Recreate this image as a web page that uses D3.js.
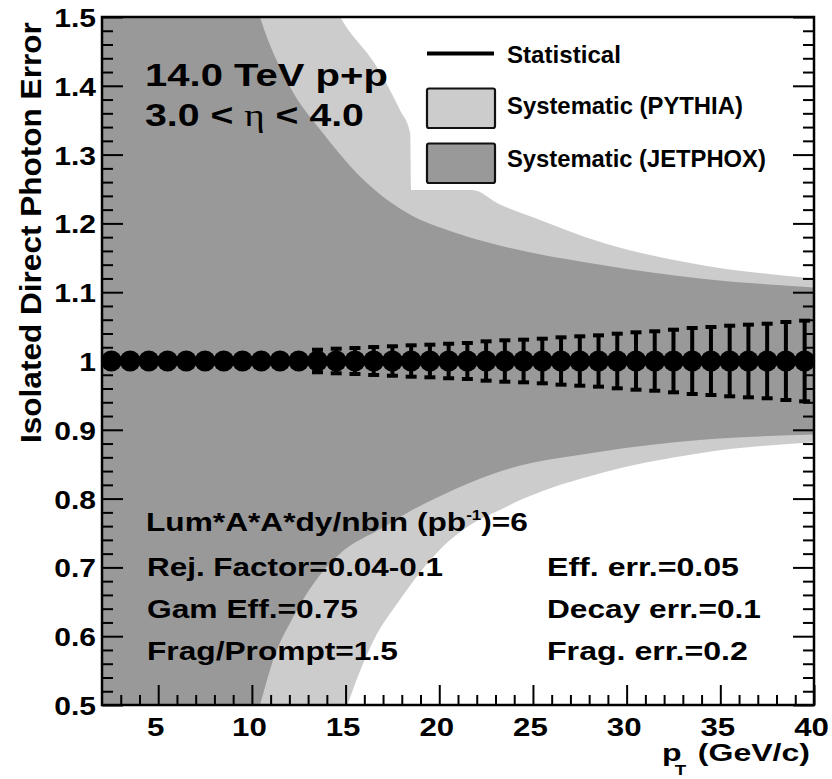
<!DOCTYPE html>
<html><head><meta charset="utf-8">
<script src="https://cdn.jsdelivr.net/npm/d3@7"></script>
<style>
html,body{margin:0;padding:0;background:#fff;}
svg{display:block;}
text{font-family:"Liberation Sans",Arial,Helvetica,sans-serif;font-weight:bold;fill:#000;}
</style></head><body>
<svg id="chart" width="832" height="779"></svg>
<script>
// ---------------- data ----------------
const ptBins = [2.5,3.5,4.5,5.5,6.5,7.5,8.5,9.5,10.5,11.5,12.5,13.5,14.5,15.5,16.5,17.5,18.5,19.5,20.5,21.5,
  22.5,23.5,24.5,25.5,26.5,27.5,28.5,29.5,30.5,31.5,32.5,33.5,34.5,35.5,36.5,37.5,38.5,39.5];
const ratioValues = [1,1,1,1,1,1,1,1,1,1,1,1,1,1,1,1,1,1,1,1,1,1,1,1,1,1,1,1,1,1,1,1,1,1,1,1,1,1];
const statErrors = [0.0057,0.0062,0.0068,0.0075,0.0083,0.0092,0.0102,0.0113,0.0125,0.0137,0.0150,
  0.0164,0.0179,0.0189,0.0203,0.0214,0.0228,0.0237,0.0251,0.0262,0.0286,0.0301,0.0310,0.0324,0.0344,
  0.0359,0.0373,0.0397,0.0417,0.0432,0.0455,0.0480,0.0494,0.0513,0.0528,0.0542,0.0567,0.0586];

// systematic bands (upper and lower edges)
const pythiaUpperPt  = [2, 13.5, 14.72, 16.68, 17.9, 18.45, 18.5, 20.0, 21.75, 23.2, 25.0, 28.6, 33.9, 40];
const pythiaUpperVal = [3.0, 1.57, 1.50, 1.427, 1.365, 1.331, 1.2485, 1.2485, 1.2485, 1.228, 1.209, 1.173, 1.14, 1.12];
const pythiaLowerPt  = [2, 14.5, 15.1, 16.5, 17.9, 20.0, 21.8, 23.2, 24.5, 28.6, 33.9, 40];
const pythiaLowerVal = [-1.0, 0.45, 0.50, 0.594, 0.653, 0.725, 0.764, 0.783, 0.80, 0.837, 0.866, 0.882];
const jetphoxUpperPt  = [2, 9.8, 10.43, 12.0, 13.8, 15.6, 18.3, 20.9, 23.2, 28.6, 33.9, 40];
const jetphoxUpperVal = [3.0, 1.56, 1.50, 1.40, 1.331, 1.273, 1.215, 1.186, 1.168, 1.14, 1.12, 1.107];
const jetphoxLowerPt  = [2, 9.8, 10.43, 11.13, 12.19, 13.63, 14.7, 17.0, 18.4, 20.0, 23.2, 28.6, 33.9, 40];
const jetphoxLowerVal = [-1.0, 0.44, 0.50, 0.565, 0.627, 0.689, 0.72, 0.758, 0.781, 0.803, 0.839, 0.868, 0.885, 0.893];

const yMajorTicks = [0.5,0.6,0.7,0.8,0.9,1.0,1.1,1.2,1.3,1.4,1.5];
const yTickLabels = ["0.5","0.6","0.7","0.8","0.9","1","1.1","1.2","1.3","1.4","1.5"];
const xMajorTicks = [5,10,15,20,25,30,35,40];
const xTickLabels = ["5","10","15","20","25","30","35","40"];

const legendLabels = ["Statistical","Systematic (PYTHIA)","Systematic (JETPHOX)"];
const infoLeft  = ["Rej. Factor=0.04-0.1","Gam Eff.=0.75","Frag/Prompt=1.5"];
const infoRight = ["Eff. err.=0.05","Decay err.=0.1","Frag. err.=0.2"];

// ---------------- drawing ----------------
const LIGHT = "#cccccc", DARK = "#999999";
const svg = d3.select("#chart");
const X0 = 102, X1 = 814, Y0 = 17, Y1 = 705;
const x = d3.scaleLinear().domain([2, 40]).range([X0, X1]);
const y = d3.scaleLinear().domain([0.5, 1.5]).range([Y1, Y0]);

svg.append("defs").append("clipPath").attr("id", "plotclip")
  .append("rect").attr("x", X0).attr("y", Y0).attr("width", X1 - X0).attr("height", Y1 - Y0);
const plot = svg.append("g").attr("clip-path", "url(#plotclip)");

function band(ptArr, valArr, color) {
  const pts = ptArr.map((p, i) => [p, valArr[i]]);
  const area = d3.area().x(d => x(d[0])).y0(y(1)).y1(d => y(d[1])).curve(d3.curveMonotoneX);
  plot.append("path").datum(pts).attr("d", area).attr("fill", color);
}
band(pythiaUpperPt, pythiaUpperVal, LIGHT);
band(pythiaLowerPt, pythiaLowerVal, LIGHT);
band(jetphoxUpperPt, jetphoxUpperVal, DARK);
band(jetphoxLowerPt, jetphoxLowerVal, DARK);

// statistical points
const R = 10.5;
const pts = ptBins.map((p, i) => ({p, v: ratioValues[i], e: statErrors[i]}));
const eb = svg.append("g");
pts.filter(d => (y(d.v) - y(d.v + d.e)) > R).forEach(d => {
  const cx = x(d.p);
  eb.append("line").attr("x1", cx).attr("x2", cx).attr("y1", y(d.v + d.e)).attr("y2", y(d.v - d.e))
    .attr("stroke", "#000").attr("stroke-width", 4);
  [d.v + d.e, d.v - d.e].forEach(val => {
    eb.append("line").attr("x1", cx - 5.5).attr("x2", cx + 5.5).attr("y1", y(val)).attr("y2", y(val))
      .attr("stroke", "#000").attr("stroke-width", 4);
  });
});
svg.append("g").selectAll("circle").data(pts).join("circle")
  .attr("cx", d => x(d.p)).attr("cy", d => y(d.v)).attr("r", R).attr("fill", "#000");

// axes
function styleAxis(g) {
  g.select(".domain").remove();
  g.selectAll("line").attr("stroke", "#000").attr("stroke-width", 2);
}
const yMinor = d3.range(26, 75).filter(k => k % 5 !== 0).map(k => k * 0.02);
const xMinor = d3.range(3, 40).filter(k => k % 5 !== 0);

const gyL = svg.append("g").attr("transform", `translate(${X0},0)`)
  .call(d3.axisLeft(y).tickValues(yMajorTicks).tickSize(-21).tickFormat((d, i) => yTickLabels[i]));
styleAxis(gyL);
gyL.selectAll("text").attr("x", null).attr("dy", null).attr("text-anchor", "end")
  .attr("transform", "translate(-6,9.5) scale(1.2,1)").style("font-size", "25px");
svg.append("g").attr("transform", `translate(${X0},0)`)
  .call(d3.axisLeft(y).tickValues(yMinor).tickSize(-11).tickFormat("")).call(styleAxis);

svg.append("g").attr("transform", `translate(${X1},0)`)
  .call(d3.axisRight(y).tickValues(yMajorTicks).tickSize(-21).tickFormat("")).call(styleAxis);
svg.append("g").attr("transform", `translate(${X1},0)`)
  .call(d3.axisRight(y).tickValues(yMinor).tickSize(-11).tickFormat("")).call(styleAxis);

const gx = svg.append("g").attr("transform", `translate(0,${Y1})`)
  .call(d3.axisBottom(x).tickValues(xMajorTicks).tickSize(-20).tickFormat((d, i) => xTickLabels[i]));
styleAxis(gx);
gx.selectAll("text").attr("y", null).attr("dy", null).attr("text-anchor", "middle")
  .attr("transform", "translate(-3,31) scale(1.2,1)").style("font-size", "26px");
svg.append("g").attr("transform", `translate(0,${Y1})`)
  .call(d3.axisBottom(x).tickValues(xMinor).tickSize(-10).tickFormat("")).call(styleAxis);

// frame
svg.append("rect").attr("x", X0).attr("y", Y0).attr("width", X1 - X0).attr("height", Y1 - Y0)
  .attr("fill", "none").attr("stroke", "#000").attr("stroke-width", 2.5);

// text helper: draw then stretch horizontally to the wanted width
function fitted(tx, ty, width, size, anchor, build, extra) {
  const t = svg.append("text").attr("text-anchor", anchor).style("font-size", size + "px");
  build(t);
  const w = t.node().getBBox().width;
  t.attr("transform", `translate(${tx},${ty})${extra || ""} scale(${width / w},1)`);
  return t;
}

// axis titles
fitted(41, 443, 421, 29, "start", t => t.text("Isolated Direct Photon Error"), " rotate(-90)");
fitted(662, 761, 148, 24, "start", t => {
  t.append("tspan").text("p");
  t.append("tspan").text("T").attr("dx", -5).attr("dy", 14).style("font-size", "14px");
  t.append("tspan").text(" (GeV/c)").attr("dx", 2).attr("dy", -14);
});

// headline
fitted(145, 86, 243, 32, "start", t => t.text("14.0 TeV p+p"));
fitted(145, 126, 219, 32, "start", t => {
  t.append("tspan").text("3.0 < ");
  t.append("tspan").text("η").style("font-family", "'Liberation Serif','DejaVu Serif',serif").style("font-weight", "normal");
  t.append("tspan").text(" < 4.0");
});

// info block
fitted(146, 531, 382, 26, "start", t => {
  t.append("tspan").text("Lum*A*A*dy/nbin (pb");
  t.append("tspan").text("-1").attr("dy", -11).style("font-size", "14px");
  t.append("tspan").text(")=6").attr("dy", 11);
});
const infoBase = [576, 618, 660];
const leftW = [296, 211, 251], rightW = [192, 214, 201];
infoLeft.forEach((s, i) => fitted(147, infoBase[i], leftW[i], 26, "start", t => t.text(s)));
infoRight.forEach((s, i) => fitted(547, infoBase[i], rightW[i], 26, "start", t => t.text(s)));

// legend
svg.append("line").attr("x1", 427).attr("x2", 494).attr("y1", 53.5).attr("y2", 53.5)
  .attr("stroke", "#000").attr("stroke-width", 4);
svg.append("rect").attr("x", 427).attr("y", 88.5).attr("width", 68).attr("height", 39.5).attr("rx", 2)
  .attr("fill", LIGHT).attr("stroke", "#111").attr("stroke-width", 2.2);
svg.append("rect").attr("x", 427).attr("y", 143.5).attr("width", 68).attr("height", 39.5).attr("rx", 2)
  .attr("fill", DARK).attr("stroke", "#111").attr("stroke-width", 2.2);
const legBase = [62.5, 114, 167], legW = [114, 236, 259];
legendLabels.forEach((s, i) => fitted(507, legBase[i], legW[i], 23, "start", t => t.text(s)));
</script>
</body></html>
